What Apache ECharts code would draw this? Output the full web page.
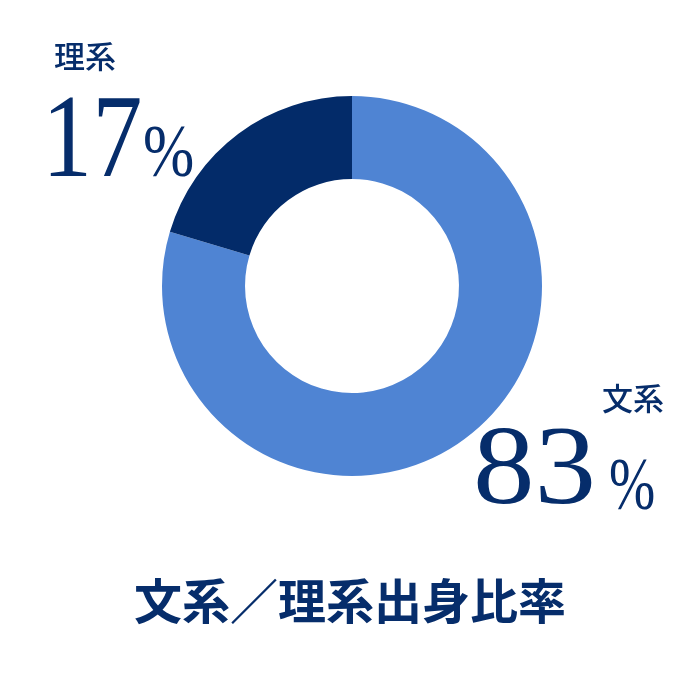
<!DOCTYPE html>
<html>
<head>
<meta charset="utf-8">
<script src="https://cdn.jsdelivr.net/npm/echarts@6/dist/echarts.min.js"></script>
<style>
  html, body { margin: 0; padding: 0; background: #fff; }
  #chart { width: 700px; height: 700px; }
</style>
</head>
<body>
<div id="chart"></div>
<script>
// categories and the percentages printed next to the ring
const categories = ['文系', '理系'];
const printedShares = [83, 17];
// arc sizes as they are drawn in the picture (the dark arc is a bit wider than 17%)
const arcValues = [79.6, 20.4];
const title = '文系／理系出身比率';

const navy = '#062d6b';
const colors = ['#4f84d3', '#032b69'];

const numFont = '"Liberation Serif", "DejaVu Serif", serif';
const cjkFont = '"Noto Sans CJK JP", "Noto Sans CJK SC", sans-serif';

function txt(x, y, text, font, opts) {
    opts = opts || {};
    return {
        type: 'text',
        x: x, y: y,
        scaleX: opts.scaleX || 1,
        style: {
            x: 0, y: 0, text: text, font: font, fill: navy,
            align: opts.align || 'left',
            verticalAlign: opts.va || 'bottom'
        }
    };
}

// p: placement of one block (name, number, percent sign)
function shareBlock(i, p) {
    return [
        txt(p.nameX, p.nameY, categories[i], '500 31px ' + cjkFont, { align: p.nameAlign, va: 'middle' }),
        txt(p.numX, p.numY, String(printedShares[i]), p.numSize + 'px ' + numFont, { scaleX: p.numScale }),
        txt(p.pctX, p.pctY, '%', '75px ' + numFont, { scaleX: p.pctScale })
    ];
}

const chart = echarts.init(document.getElementById('chart'));
chart.setOption({
    animation: false,
    color: colors,
    series: [{
        type: 'pie',
        center: [352, 286],
        radius: [107, 190],
        startAngle: 90,
        silent: true,
        label: { show: false },
        labelLine: { show: false },
        emphasis: { disabled: true },
        data: categories.map((c, i) => ({ name: c, value: arcValues[i] }))
    }],
    graphic: [
        ...shareBlock(1, {
            nameX: 54, nameY: 56, nameAlign: 'left',
            numX: 42, numY: 204, numSize: 118, numScale: 0.85,
            pctX: 143, pctY: 194, pctScale: 0.82
        }),
        ...shareBlock(0, {
            nameX: 664, nameY: 398, nameAlign: 'right',
            numX: 473, numY: 530, numSize: 112, numScale: 1.1,
            pctX: 609, pctY: 527, pctScale: 0.74
        }),
        txt(350, 601, title, 'bold 48px ' + cjkFont, { align: 'center', va: 'middle' })
    ]
});
</script>
</body>
</html>
